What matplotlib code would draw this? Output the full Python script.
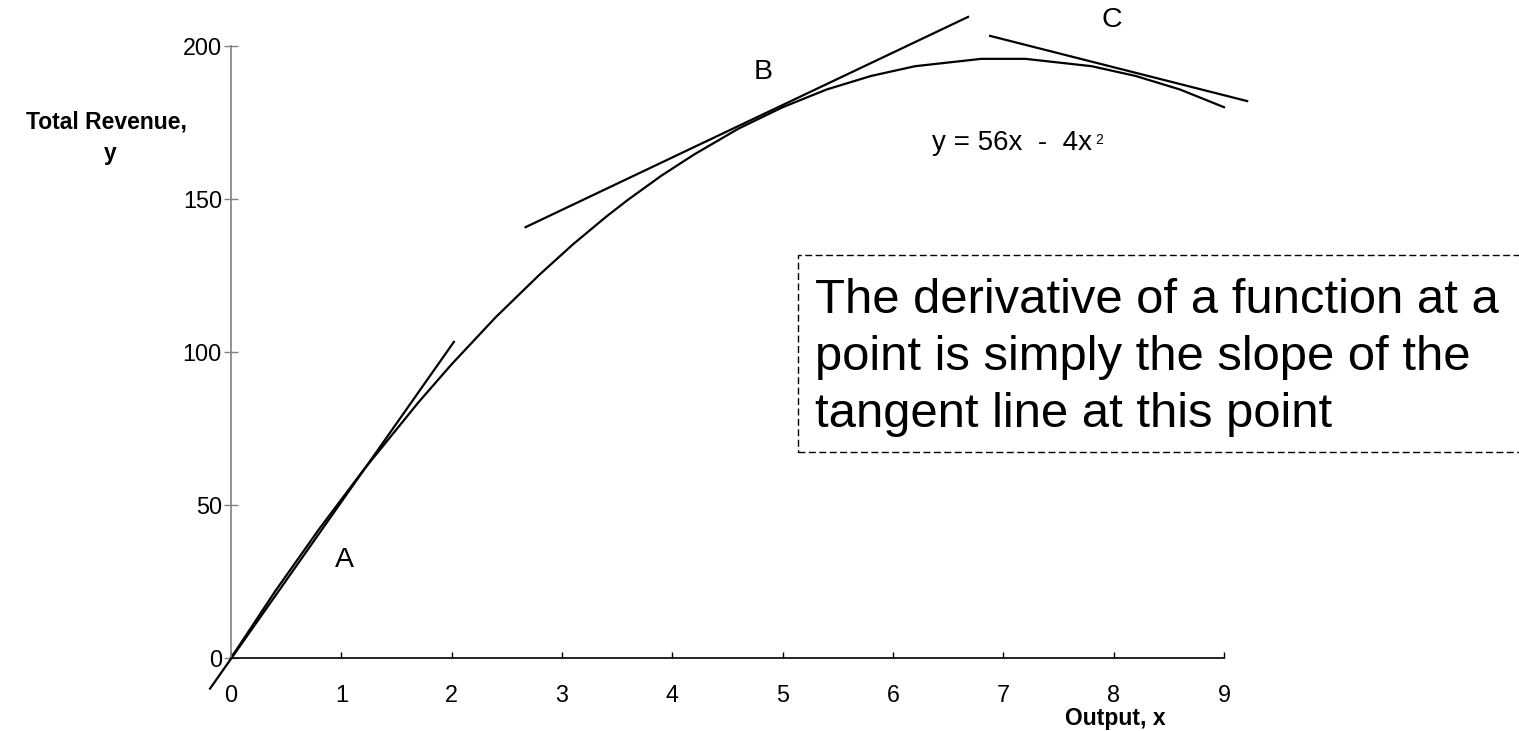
import matplotlib.pyplot as plt
from matplotlib.patches import Rectangle

plt.rcParams['font.family'] = ['Liberation Sans', 'DejaVu Sans']

# total revenue curve, y = 56x - 4x^2
output_x = [0, 0.4, 0.8, 1.2, 1.7, 2.0, 2.4, 2.8, 3.1, 3.4, 3.6, 3.8, 3.9,
            4.2, 4.6, 5.0, 5.4, 5.8, 6.2, 6.8, 7.2, 7.8, 8.2, 8.6, 9.0]
revenue_y = [0, 21.8, 42.2, 61.4, 83.6, 96.0, 111.4, 125.4, 135.2, 144.2,
             149.8, 155.0, 157.6, 164.6, 173.0, 180.0, 185.8, 190.2, 193.4,
             195.8, 195.8, 193.4, 190.2, 185.8, 180.0]

# tangent segments (end points)
tan_a_x = [-0.19, 2.02]
tan_a_y = [-10.0, 103.3]
tan_b_x = [2.67, 6.68]
tan_b_y = [140.8, 209.5]
tan_c_x = [6.88, 9.21]
tan_c_y = [203.3, 182.0]

x_ticks = list(range(10))
y_ticks = [0, 50, 100, 150, 200]

note_lines = ['The derivative of a function at a',
              'point is simply the slope of the',
              'tangent line at this point']

W, H = 1519, 731
fig = plt.figure(figsize=(W / 100, H / 100), dpi=100)
ax = fig.add_axes([231 / W, (H - 658) / H, (1224 - 231) / W, (658 - 46) / H])

ax.plot(output_x, revenue_y, color='black', lw=1.6, clip_on=False)
for tx, ty in [(tan_a_x, tan_a_y), (tan_b_x, tan_b_y), (tan_c_x, tan_c_y)]:
    ax.plot(tx, ty, color='black', lw=1.6, clip_on=False)

ax.set_xlim(0, 9)
ax.set_ylim(0, 200)
ax.set_xticks(x_ticks)
ax.set_yticks(y_ticks)

for s in ['top', 'right']:
    ax.spines[s].set_visible(False)
ax.spines['left'].set_color('#808080')
ax.spines['left'].set_linewidth(1.2)
ax.spines['bottom'].set_color('black')
ax.spines['bottom'].set_linewidth(1.2)

ax.tick_params(axis='x', direction='in', length=4.5, width=1.0, color='black',
               labelsize=16.8, pad=19)
ax.tick_params(axis='y', direction='inout', length=10, width=1.0,
               color='#808080', labelsize=16.8, pad=1.5)

def px(x, y):
    return x / W, 1 - y / H

fig.text(*px(106, 128), 'Total Revenue,', ha='center', va='baseline',
         fontsize=16.5, fontweight='bold')
fig.text(*px(110, 160), 'y', ha='center', va='baseline',
         fontsize=16.5, fontweight='bold')
fig.text(*px(1115, 725), 'Output, x', ha='center', va='baseline',
         fontsize=16.5, fontweight='bold')

ax.text(1.03, 32, 'A', ha='center', va='center', fontsize=20.5)
ax.text(4.82, 191.5, 'B', ha='center', va='center', fontsize=20.5)
ax.text(7.98, 208.5, 'C', ha='center', va='center', fontsize=20.5)

fig.text(*px(932, 150), 'y = 56x  -  4x', ha='left', va='baseline', fontsize=20)
fig.text(*px(1095, 144), '2', ha='left', va='baseline', fontsize=10)

# dashed note box running off the right edge
box = Rectangle(px(798, 452), (1530 - 798) / W, (452 - 255) / H,
                transform=fig.transFigure, fill=False, ec='black', lw=1.0,
                ls=(0, (5, 2.5)), clip_on=False)
fig.patches.append(box)
for i, line in enumerate(note_lines):
    fig.text(*px(815, 313 + 57 * i), line, ha='left', va='baseline',
             fontsize=35.3)

fig.savefig('out.png', dpi=100)
